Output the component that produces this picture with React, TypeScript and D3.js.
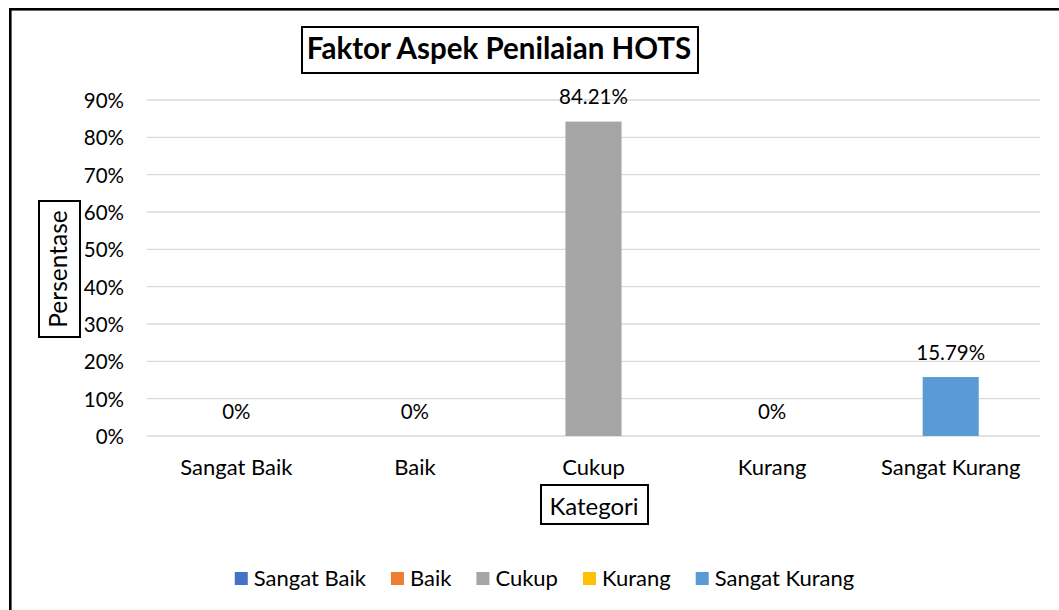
import React, { useEffect, useRef } from 'react';
import * as d3 from 'd3';

const categories = ['Sangat Baik', 'Baik', 'Cukup', 'Kurang', 'Sangat Kurang'];
const values = [0, 0, 84.21, 0, 15.79];
const seriesColors = ['#4472C4', '#ED7D31', '#A5A5A5', '#FFC000', '#5B9BD5'];
const yTicks = [0, 10, 20, 30, 40, 50, 60, 70, 80, 90];

const FONT = 'Lato, "Open Sans", sans-serif';

const App: React.FC = () => {
  const svgRef = useRef<SVGSVGElement>(null);

  useEffect(() => {
    if (!svgRef.current) return;
    const svg = d3.select(svgRef.current);
    svg.selectAll('*').remove();

    const width = 1059;
    const height = 610;
    const plot = { left: 147, right: 1040, top: 100, bottom: 436 };

    svg.attr('width', width).attr('height', height);

    // outer chart border
    svg.append('rect')
      .attr('x', 10.3).attr('y', 9.3)
      .attr('width', 1200).attr('height', 800)
      .attr('fill', '#fff')
      .attr('stroke', '#000')
      .attr('stroke-width', 2.6);

    const x = d3.scaleBand<string>()
      .domain(categories)
      .range([plot.left, plot.right])
      .paddingInner(0.686)
      .paddingOuter(0.343);

    const y = d3.scaleLinear()
      .domain([0, 90])
      .range([plot.bottom, plot.top]);

    // grid lines
    svg.append('g')
      .selectAll('line')
      .data(yTicks)
      .join('line')
      .attr('x1', plot.left)
      .attr('x2', plot.right)
      .attr('y1', d => y(d))
      .attr('y2', d => y(d))
      .attr('stroke', '#D9D9D9')
      .attr('stroke-width', 1.3);

    // y tick labels
    svg.append('g')
      .selectAll('text')
      .data(yTicks)
      .join('text')
      .attr('x', 124)
      .attr('y', d => y(d) + 8)
      .attr('text-anchor', 'end')
      .style('font-family', FONT)
      .style('font-size', '20.5px')
      .attr('fill', '#000')
      .text(d => `${d}%`);

    // bars
    svg.append('g')
      .selectAll('rect')
      .data(values)
      .join('rect')
      .attr('x', (_, i) => x(categories[i])!)
      .attr('width', x.bandwidth())
      .attr('y', d => y(d))
      .attr('height', d => y(0) - y(d))
      .attr('fill', (_, i) => seriesColors[i]);

    // data labels
    svg.append('g')
      .selectAll('text')
      .data(values)
      .join('text')
      .attr('x', (_, i) => x(categories[i])! + x.bandwidth() / 2)
      .attr('y', d => y(d) - 17.5)
      .attr('text-anchor', 'middle')
      .style('font-family', FONT)
      .style('font-size', '20.5px')
      .attr('fill', '#000')
      .text(d => (d === 0 ? '0%' : `${d.toFixed(2)}%`));

    // category labels
    svg.append('g')
      .selectAll('text')
      .data(categories)
      .join('text')
      .attr('x', d => x(d)! + x.bandwidth() / 2)
      .attr('y', 475)
      .attr('text-anchor', 'middle')
      .style('font-family', FONT)
      .style('font-size', '22px')
      .attr('fill', '#000')
      .text(d => d);

    // title box
    svg.append('rect')
      .attr('x', 302).attr('y', 27)
      .attr('width', 396).attr('height', 46)
      .attr('fill', '#fff')
      .attr('stroke', '#000')
      .attr('stroke-width', 2);
    svg.append('text')
      .attr('x', 499).attr('y', 59)
      .attr('text-anchor', 'middle')
      .style('font-family', FONT)
      .style('font-size', '29.5px')
      .style('font-weight', 'bold')
      .attr('fill', '#000')
      .text('Faktor Aspek Penilaian HOTS');

    // y axis title box
    svg.append('rect')
      .attr('x', 39).attr('y', 201)
      .attr('width', 41).attr('height', 136)
      .attr('fill', '#fff')
      .attr('stroke', '#000')
      .attr('stroke-width', 2);
    svg.append('text')
      .attr('transform', 'translate(67,269) rotate(-90)')
      .attr('text-anchor', 'middle')
      .style('font-family', FONT)
      .style('font-size', '24.5px')
      .attr('fill', '#000')
      .text('Persentase');

    // x axis title box
    svg.append('rect')
      .attr('x', 541).attr('y', 485)
      .attr('width', 107).attr('height', 39)
      .attr('fill', '#fff')
      .attr('stroke', '#000')
      .attr('stroke-width', 2);
    svg.append('text')
      .attr('x', 594).attr('y', 515)
      .attr('text-anchor', 'middle')
      .style('font-family', FONT)
      .style('font-size', '24px')
      .attr('fill', '#000')
      .text('Kategori');

    // legend
    const legend = svg.append('g');
    const items = legend.selectAll('g')
      .data(categories)
      .join('g');
    items.append('rect')
      .attr('width', 13).attr('height', 13)
      .attr('y', 572)
      .attr('fill', (_, i) => seriesColors[i]);
    const labels = items.append('text')
      .attr('y', 586)
      .style('font-family', FONT)
      .style('font-size', '22px')
      .attr('fill', '#000')
      .text(d => d);

    const widths: number[] = [];
    labels.each(function () {
      widths.push((this as SVGTextElement).getComputedTextLength());
    });
    const gap = 25;
    const total = d3.sum(widths) + categories.length * 19 + (categories.length - 1) * gap;
    let cx = 544.5 - total / 2;
    items.each(function (_, i) {
      const g = d3.select(this);
      g.select('rect').attr('x', cx);
      g.select('text').attr('x', cx + 19);
      cx += 19 + widths[i] + gap;
    });
  }, []);

  return (
    <svg
      ref={svgRef}
      style={{ position: 'absolute', left: 0, top: 0, display: 'block' }}
    />
  );
};

export default App;
